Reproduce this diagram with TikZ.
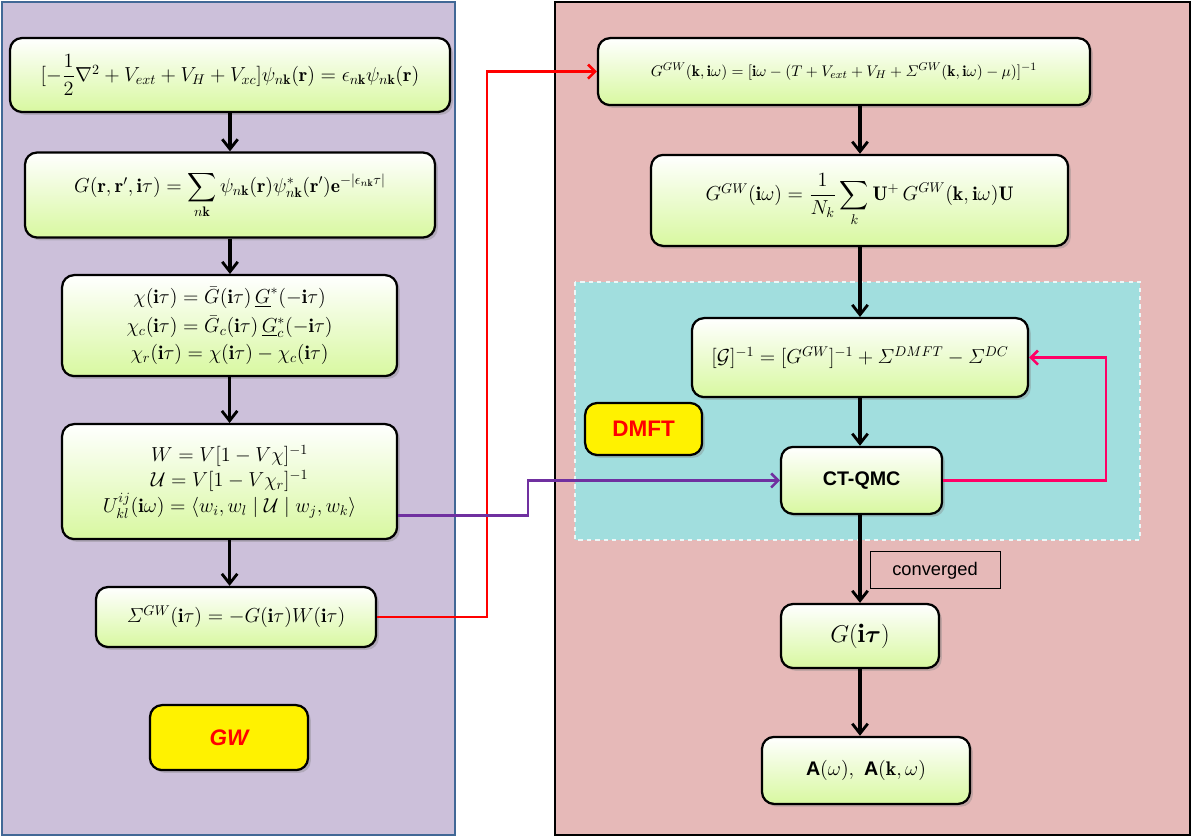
\documentclass[tikz,border=0pt]{standalone}
\usepackage{amsmath}
\usepackage{fontspec}
\setsansfont{Liberation Sans}
\usetikzlibrary{arrows.meta,shadows}

\definecolor{gwPanel}{RGB}{204,192,218}
\definecolor{gwBorder}{RGB}{65,104,150}
\definecolor{dmftPanel}{RGB}{230,185,184}
\definecolor{loopPanel}{RGB}{161,222,222}
\definecolor{boxBottom}{RGB}{216,248,160}
\definecolor{gwToDmft}{RGB}{255,0,0}
\definecolor{uToQmc}{RGB}{112,48,160}
\definecolor{qmcBack}{RGB}{255,0,102}

\begin{document}
\begin{tikzpicture}
[eqDecorate/.style={draw,line width=1.6pt,rounded corners=0.3cm,top color=white,
   bottom color=boxBottom,drop shadow={opacity=0.35,shadow xshift=2pt,shadow yshift=-2pt},
   align=center,font=\fontsize{14}{18}\selectfont,inner sep=2pt},%
  tagDecorate/.style={draw,line width=1.6pt,rounded corners=0.3cm,fill=yellow,
   drop shadow={opacity=0.35,shadow xshift=2pt,shadow yshift=-2pt},
   text=red,font=\sffamily\bfseries\fontsize{16}{19}\selectfont},%
  flowDecorate/.style={-{Straight Barb[length=7pt,width=11pt,line width=2pt]},line width=2.2pt},%
  linkDecorate/.style={-{Straight Barb[length=5pt,width=10pt,line width=1.8pt]},line width=1.8pt}]
\useasboundingbox (0,0) rectangle (29.85,-20.975);
%% panels
\draw[fill=gwPanel,draw=gwBorder,line width=1.5pt] (0.05,-0.05) rectangle (11.375,-20.875);
\draw[fill=dmftPanel,draw=black,line width=1.5pt] (13.875,-0.05) rectangle (29.75,-20.875);
\draw[fill=loopPanel,draw=white!80!loopPanel,dashed,line width=0.8pt] (14.375,-7.05) rectangle (28.5,-13.5);

%% GW side
\node (b1) at (5.75,-1.875) [eqDecorate,minimum width=11cm,minimum height=1.85cm]
  {$[-\dfrac{1}{2}\nabla^2+V_{ext}+V_H+V_{xc}]\psi_{n\mathbf{k}}(\mathbf{r})=\epsilon_{n\mathbf{k}}\psi_{n\mathbf{k}}(\mathbf{r})$};
\node (b2) at (5.75,-4.875) [eqDecorate,minimum width=10.25cm,minimum height=2.125cm]
  {$G(\mathbf{r},\mathbf{r}',\mathbf{i}\tau)=\displaystyle\sum_{n\mathbf{k}}\psi_{n\mathbf{k}}(\mathbf{r})\psi^{*}_{n\mathbf{k}}(\mathbf{r}')\mathbf{e}^{-|\epsilon_{n\mathbf{k}}\tau|}$};
\node (b3) at (5.74,-8.14) [eqDecorate,minimum width=8.375cm,minimum height=2.525cm]
  {$\chi(\mathbf{i}\tau)=\bar{G}(\mathbf{i}\tau)\,\underline{G}^{*}(-\mathbf{i}\tau)$\\[3pt]
   $\chi_c(\mathbf{i}\tau)=\bar{G}_c(\mathbf{i}\tau)\,\underline{G}^{*}_c(-\mathbf{i}\tau)$\\[1pt]
   $\chi_r(\mathbf{i}\tau)=\chi(\mathbf{i}\tau)-\chi_c(\mathbf{i}\tau)$};
\node (b4) at (5.74,-12.04) [eqDecorate,minimum width=8.375cm,minimum height=2.875cm]
  {$W=V[1-V\chi]^{-1}$\\
   $\mathcal{U}=V[1-V\chi_r]^{-1}$\\
   $U^{ij}_{kl}(\mathbf{i}\omega)=\langle w_i,w_l\mid\mathcal{U}\mid w_j,w_k\rangle$};
\node (b5) at (5.9,-15.425) [eqDecorate,minimum width=7cm,minimum height=1.5cm]
  {$\varSigma^{GW}(\mathbf{i}\tau)=-G(\mathbf{i}\tau)W(\mathbf{i}\tau)$};
\node (gw) at (5.725,-18.44) [tagDecorate,minimum width=3.95cm,minimum height=1.625cm] {\itshape GW};

%% DMFT side
\node (r1) at (21.1,-1.79) [eqDecorate,minimum width=12.3cm,minimum height=1.675cm,font=\fontsize{11}{14}\selectfont]
  {$G^{GW}(\mathbf{k},\mathbf{i}\omega)=[\mathbf{i}\omega-(T+V_{ext}+V_H+\varSigma^{GW}(\mathbf{k},\mathbf{i}\omega)-\mu)]^{-1}$};
\node (r2) at (21.49,-5.01) [eqDecorate,minimum width=10.425cm,minimum height=2.275cm]
  {$G^{GW}(\mathbf{i}\omega)=\dfrac{1}{N_k}\displaystyle\sum_{k}\mathbf{U}^{+}\,G^{GW}(\mathbf{k},\mathbf{i}\omega)\mathbf{U}$};
\node (r3) at (21.5,-8.94) [eqDecorate,minimum width=8.4cm,minimum height=1.975cm]
  {$[\mathcal{G}]^{-1}=[G^{GW}]^{-1}+\varSigma^{DMFT}-\varSigma^{DC}$};
\node (qmc) at (21.54,-12.01) [eqDecorate,minimum width=4.025cm,minimum height=1.675cm,
  font=\sffamily\bfseries\fontsize{14}{17}\selectfont] {CT-QMC};
\node (dmft) at (16.09,-10.725) [tagDecorate,minimum width=2.925cm,minimum height=1.3cm] {DMFT};
\node (conv) at (23.375,-14.26) [draw,line width=0.6pt,minimum width=3.25cm,minimum height=0.925cm,
  font=\sffamily\fontsize{13}{16}\selectfont] {converged};
\node (gt) at (21.5,-15.9) [eqDecorate,minimum width=3.95cm,minimum height=1.6cm,
  font=\fontsize{19}{22}\selectfont] {$G(\mathbf{i}\boldsymbol{\tau})$};
\node (aw) at (21.65,-19.26) [eqDecorate,minimum width=5.2cm,minimum height=1.675cm]
  {$\textsf{\textbf{A}}(\omega),\ \textsf{\textbf{A}}(\mathbf{k},\omega)$};

%% flow
\foreach \startnode/\endnode in {b1/b2, b2/b3, b3/b4, b4/b5}
{
  \draw[flowDecorate] (\startnode.south) -- (\startnode.south |- \endnode.north);
}
\foreach \startnode/\endnode in {r1/r2, r2/r3, r3/qmc, qmc/gt, gt/aw}
{
  \draw[flowDecorate] (21.5,0 |- \startnode.south) -- (21.5,0 |- \endnode.north);
}

%% links between the two sides
\coordinate (redbend) at (12.175,0);
\coordinate (purplebend) at (13.2,0);
\coordinate (pinkbend) at (27.65,0);
\draw[linkDecorate,gwToDmft] (b5.east) -- (b5.east -| redbend) -- (redbend |- r1.west) -- (r1.west);
\draw[linkDecorate,uToQmc] ([yshift=-0.85cm]b4.east) -- ([yshift=-0.85cm]b4.east -| purplebend)
  -- (purplebend |- qmc.west) -- (qmc.west);
\draw[linkDecorate,qmcBack] (qmc.east) -- (qmc.east -| pinkbend) -- (pinkbend |- r3.east) -- (r3.east);
\end{tikzpicture}
\end{document}
